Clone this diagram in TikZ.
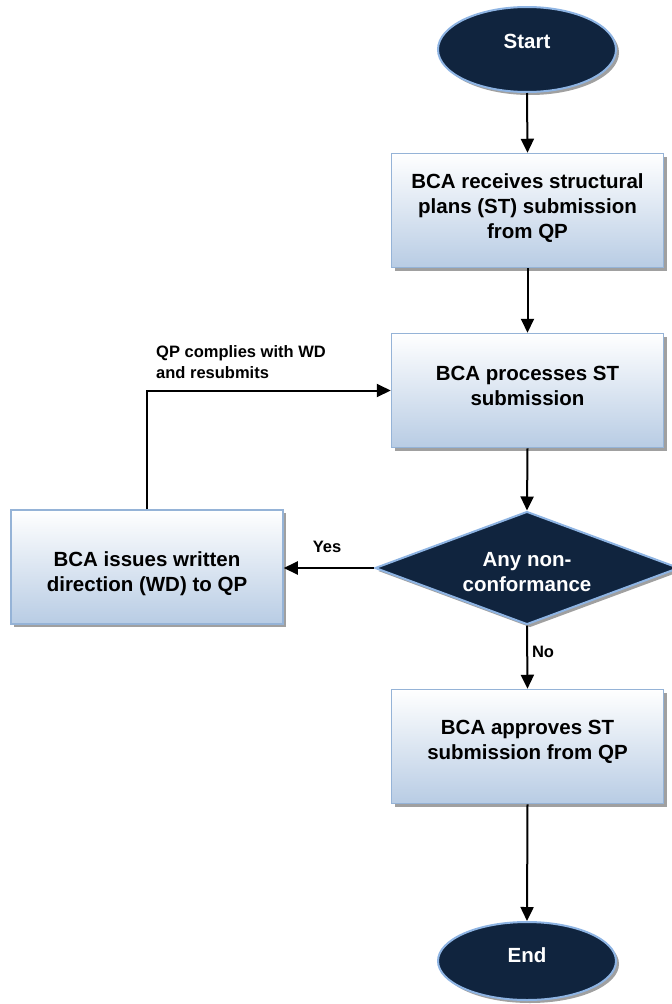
\documentclass[tikz,border=0pt]{standalone}
\usepackage{fontspec}
\setmainfont{Liberation Sans}
\usetikzlibrary{shapes.geometric,arrows.meta,shadows}
\definecolor{navy}{HTML}{10243E}
\definecolor{navyedge}{HTML}{8EB4E3}
\definecolor{boxedge}{HTML}{95B3D7}
\definecolor{boxbot}{HTML}{B8CCE4}
\definecolor{shadowc}{HTML}{A0A0A0}
\begin{document}
\begin{tikzpicture}[x=1pt,y=-1pt,
  shad/.style={drop shadow={shadow xshift=3pt,shadow yshift=-3pt,fill=shadowc,opacity=1}},
  procbox/.style={shape=rectangle,draw=boxedge,line width=1.5pt,top color=white,bottom color=boxbot,
    minimum width=272pt,minimum height=114pt,inner sep=0pt,shad},
  term/.style={shape=ellipse,fill=navy,draw=navyedge,line width=2pt,minimum width=178pt,inner sep=0pt,shad},
  decis/.style={shape=diamond,fill=navy,draw=navyedge,line width=2pt,minimum width=304pt,minimum height=113pt,inner sep=0pt,shad},
  btxt/.style={align=center,font=\bfseries\fontsize{20.5}{25}\selectfont,inner sep=0pt},
  wtxt/.style={btxt,text=white},
  ltxt/.style={align=left,font=\bfseries\fontsize{16.5}{21}\selectfont,inner sep=0pt},
  conn/.style={draw=black,line width=2pt,-{Triangle[length=14pt,width=13pt]}}
]
\useasboundingbox (0,0) rectangle (672,1004);
% shapes
\node[term,minimum height=85pt] (start) at (527,49.5) {};
\node[wtxt] (startt) at (527,41) {Start};
\node[procbox] (box1) at (527.5,210.5) {};
\node[btxt] (box1t) at (527.5,208) {BCA receives structural\\plans (ST) submission\\from QP};
\node[procbox] (box2) at (527.5,390.5) {};
\node[btxt] (box2t) at (527.5,386) {BCA processes ST\\submission};
\node[decis] (dec) at (527,568) {};
\node[wtxt] (dect) at (527,572) {Any non-\\conformance};
\node[procbox] (left) at (147,567) {};
\node[btxt] (leftt) at (147,574) {BCA issues written\\direction (WD) to QP};
\node[procbox] (appr) at (527.5,746.5) {};
\node[btxt] (apprt) at (527.5,741.5) {BCA approves ST\\submission from QP};
\node[term,minimum height=78pt] (end) at (527,961) {};
\node[wtxt] (endt) at (527,955) {End};
% connectors
\draw[conn] (start.south) -- (box1.north);
\draw[conn] (box1.south) -- (box2.north);
\draw[conn] (box2.south) -- (dec.north);
\draw[conn] (dec.south) -- (appr.north);
\draw[conn] (dec.west) -- (dec.west -| left.east);
\draw[conn] (left.north) |- (box2.west);
\draw[conn] (appr.south) -- (end.north);
% labels
\node[ltxt] (yes) at (327,547) {Yes};
\node[ltxt] (no) at (543,652) {No};
\node[ltxt,anchor=west] (loop) at (156,362) {QP complies with WD\\and resubmits};
\end{tikzpicture}
\end{document}
